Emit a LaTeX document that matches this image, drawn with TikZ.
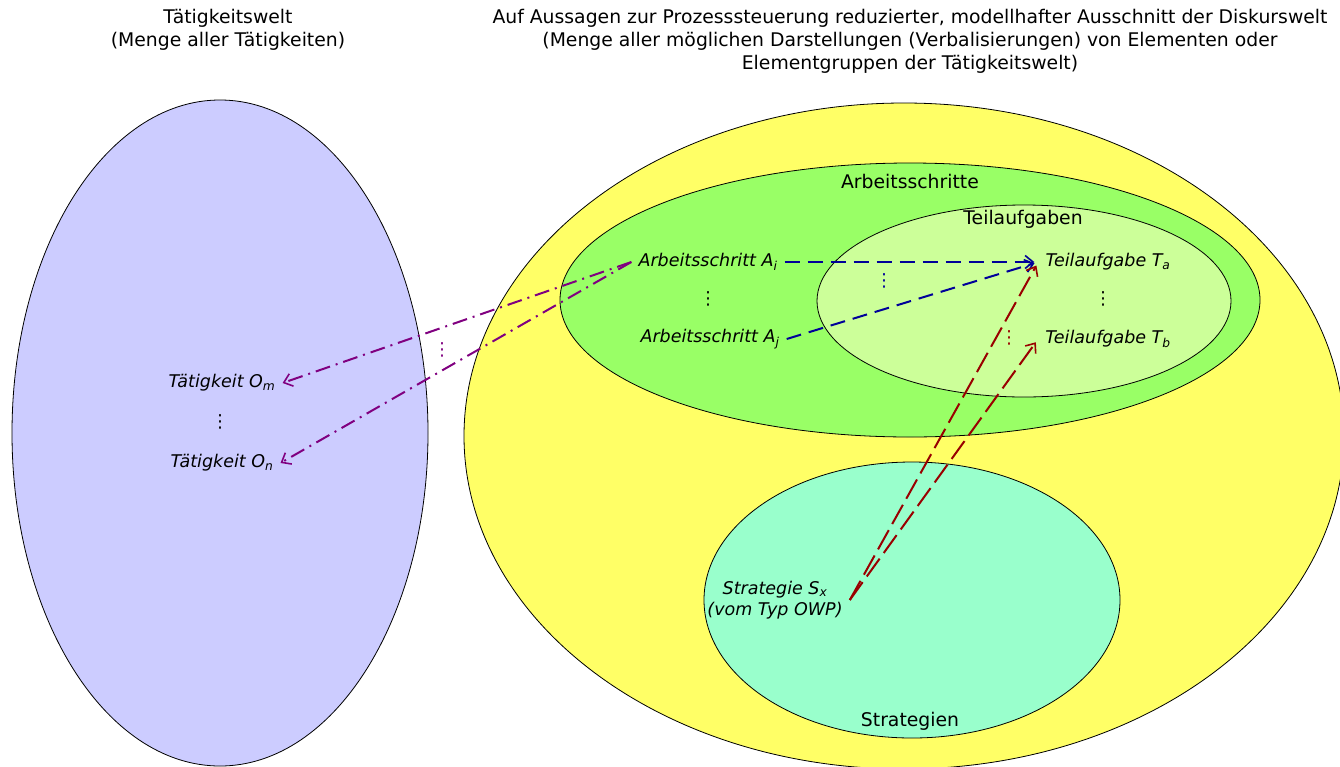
\documentclass[tikz,border=0pt]{standalone}
\usepackage{fontspec}
\setmainfont{DejaVu Sans}
\usetikzlibrary{arrows.meta}
\definecolor{lav}{HTML}{CCCCFF}
\definecolor{yel}{HTML}{FFFF66}
\definecolor{grn}{HTML}{99FF66}
\definecolor{lgrn}{HTML}{CCFF99}
\definecolor{mint}{HTML}{99FFCC}
\definecolor{dblue}{HTML}{000099}
\definecolor{dred}{HTML}{990000}
\definecolor{purp}{HTML}{800080}
\begin{document}
\begin{tikzpicture}[x=1pt,y=-1pt,
  setshape/.style={draw=black, line width=0.8pt},
  lbl/.style={font=\fontsize{18.8}{23}\selectfont, inner sep=0pt, align=center},
  item/.style={font=\fontsize{17.5}{21}\selectfont\itshape, inner ysep=3pt, inner xsep=7pt, align=center},
  dotsnode/.style={inner sep=0pt, font=\fontsize{18}{20}\selectfont},
  tip/.style={-{Straight Barb[length=8pt,width=13pt,line width=1.6pt]}},
  bluearrow/.style={tip, dblue, line width=2pt, dash pattern=on 15pt off 8pt},
  redarrow/.style={tip, dred, line width=2pt, dash pattern=on 22pt off 7pt},
  purparrow/.style={tip, purp, line width=2pt, dash pattern=on 15pt off 6pt on 2pt off 6pt}
]
\useasboundingbox (0,0) rectangle (1340,766);
\clip (0,0) rectangle (1340,766);
% sets
\draw[setshape, fill=lav] (220,433) ellipse [x radius=208pt, y radius=333pt];
\draw[setshape, fill=yel] (904,436) ellipse [x radius=440pt, y radius=333pt];
\draw[setshape, fill=grn] (910,300) ellipse [x radius=350pt, y radius=137pt];
\draw[setshape, fill=lgrn] (1024,301) ellipse [x radius=207pt, y radius=96pt];
\draw[setshape, fill=mint] (912,600) ellipse [x radius=208pt, y radius=138pt];
% titles
\node[lbl] (t1) at (228,30) {Tätigkeitswelt\\(Menge aller Tätigkeiten)};
\node[lbl] (t2) at (910,41) {Auf Aussagen zur Prozesssteuerung reduzierter, modellhafter Ausschnitt der Diskurswelt\\(Menge aller möglichen Darstellungen (Verbalisierungen) von Elementen oder\\Elementgruppen der Tätigkeitswelt)};
\node[lbl] (l1) at (910,181) {Arbeitsschritte};
\node[lbl] (l2) at (1023,219) {Teilaufgaben};
\node[lbl] (l3) at (910,721) {Strategien};
% items
\node[item] (Ai) at (708,262) {Arbeitsschritt A\textsubscript{i}};
\node[item] (Aj) at (710,339) {Arbeitsschritt A\textsubscript{j}};
\node[item] (Ta) at (1108,262) {Teilaufgabe T\textsubscript{a}};
\node[item] (Tb) at (1108,339) {Teilaufgabe T\textsubscript{b}};
\node[item] (Om) at (222,383) {Tätigkeit O\textsubscript{m}};
\node[item] (On) at (222,463) {Tätigkeit O\textsubscript{n}};
\node[item] (Sx) at (775,600) {Strategie S\textsubscript{x}\\(vom Typ OWP)};
% dots
\node[dotsnode] (d1) at (708,299) {⋮};
\node[dotsnode] (d2) at (1103,299) {⋮};
\node[dotsnode] (d3) at (220,422) {⋮};
\node[dotsnode, text=dblue] (d4) at (884,281) {⋮};
\node[dotsnode, text=dred] (d5) at (1009,338) {⋮};
\node[dotsnode, text=purp] (d6) at (442,350) {⋮};
% connectors
\draw[bluearrow, shorten >=4pt] (Ai.east) -- (Ta.west);
\draw[bluearrow, shorten >=4pt] (Aj.east) -- (Ta.west);
\draw[redarrow, shorten >=4pt] (Sx.east) -- (Ta.west);
\draw[redarrow, shorten >=4pt] (Sx.east) -- (Tb.west);
\draw[purparrow] (Ai.west) -- (Om.east);
\draw[purparrow] (Ai.west) -- (On.east);
\end{tikzpicture}
\end{document}
